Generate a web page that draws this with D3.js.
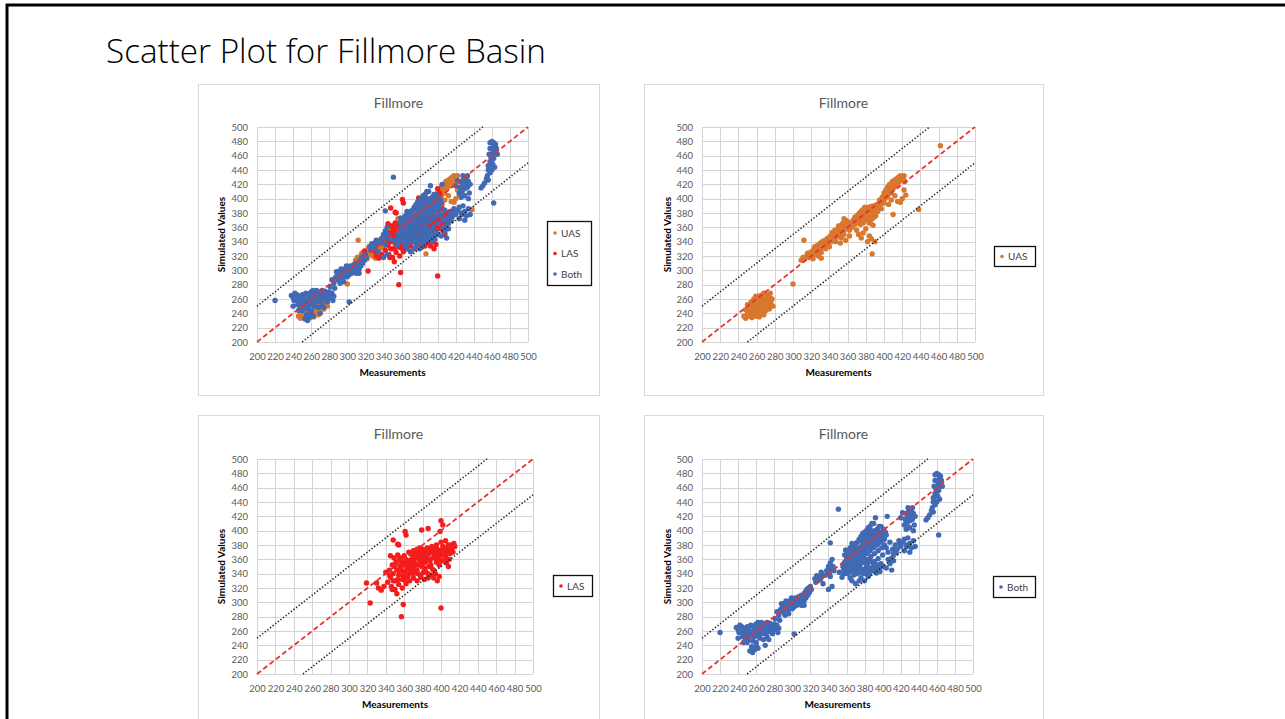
<!DOCTYPE html>
<html>
<head>
<meta charset="utf-8">
<script src="https://cdn.jsdelivr.net/npm/d3@7"></script>
<style>
  body { margin: 0; background: #fff; }
  svg { display: block; }
</style>
</head>
<body>
<svg id="slide"></svg>
<script>
// basic data
var slideTitle = "Scatter Plot for Fillmore Basin";
var chartTitle = "Fillmore";
var xLabel = "Measurements";
var yLabel = "Simulated Values";
var axisTicks = d3.range(200, 501, 20);
var seriesNames = ["UAS", "LAS", "Both"];
var seriesColors = {UAS: "#D8772E", LAS: "#F41C1C", Both: "#4169B4"};

// reference lines (1:1 and +/- 50)
var oneToOne = [[200, 200], [500, 500]];
var upperBand = [[200, 250], [450, 500]];
var lowerBand = [[250, 200], [500, 450]];

var uasPoints = [
  [246,236],[248,233],[250,240],[252,236],[254,242],[255,234],[257,238],[258,245],[260,236],[261,241],
  [262,248],[263,235],[265,240],[266,246],[268,238],[267,252],[270,244],[272,250],[274,246],[276,252],
  [278,250],[248,245],[251,248],[253,252],[256,250],[258,255],[260,252],[262,258],[264,254],[266,260],
  [268,256],[270,262],[272,258],[274,262],[276,258],[265,265],[268,268],[262,264],[257,260],[254,256],
  [250,252],[272,266],[275,268],[259,249],[263,244],[269,249],[271,255],[256,244],[252,244],[277,260],
  [258,242],[261,246],[264,238],[267,243],[253,246],[259,264],[270,252],[273,255],[264,261],[255,252],
  [300,281],[312,342],
  [309,314],[311,318],[313,316],[315,320],[316,324],[318,322],[320,326],[321,321],[323,329],[324,333],
  [326,327],[327,335],[329,331],[330,338],[331,325],[332,340],[322,316],[328,320],[331,317],
  [320,321],[326,332],[334,339],[343,353],[349,352],[355,361],[361,366],[342,340],[347,345],
  [344,344],[346,356],[338,336],[334,332],[330,328],[325,322],[318,318],[352,350],[356,356],[360,362],
  [354,364],[350,362],
  [333,336],[335,342],[336,338],[338,345],[339,340],[341,348],[342,343],[344,350],[345,346],[346,352],
  [348,355],[349,348],[350,358],[351,352],[352,362],[353,345],[354,356],[355,366],[356,350],[357,360],
  [358,370],[359,364],[360,368],[356,372],[361,358],[362,348],[358,342],[352,338],[347,340],[340,333],[336,330],
  [364,362],[366,370],[368,374],[370,366],[372,378],[373,370],[375,382],[376,374],[377,366],[378,386],
  [379,378],[380,370],[381,382],[382,374],[383,388],[384,366],[385,378],[386,384],[387,372],[388,390],
  [389,380],[390,386],[391,376],[392,392],[370,356],[372,350],[375,345],[377,352],[382,340],[384,348],
  [386,344],[387,323],[390,340],[380,358],[393,382],[395,398],[388,363],
  [367,366],[372,373],[376,379],[380,378],[384,382],[379,373],[383,377],[385,372],[390,381],[378,380],
  [381,386],[386,389],[375,375],
  [362,356],[365,360],[368,364],[371,368],[374,364],[378,368],[381,372],[385,366],[389,374],[392,384],
  [394,388],[387,380],[383,384],[379,388],[376,384],[373,380],[370,376],[366,364],
  [396,392],[398,402],[399,396],[400,408],[401,400],[402,412],[403,404],[404,416],[405,408],[406,420],
  [407,412],[408,418],[409,424],[410,414],[411,420],[412,426],[413,418],[414,428],[415,422],[416,430],
  [417,424],[418,432],[419,426],[420,430],[421,428],[422,432],[423,424],[405,392],[408,398],[410,378],
  [412,404],[415,396],[418,395],[420,400],[424,405],[422,412],[400,394],[397,386],
  [403,410],[407,417],[411,424],[416,425],[419,429],[414,418],[408,408],[404,403],
  [438,385],[462,474]
];

var lasPoints = [
  [345,335],[348,340],[350,330],[352,345],[354,338],[356,350],[358,332],[360,342],[362,355],[364,336],
  [366,348],[368,360],[370,340],[372,352],[374,345],[376,362],[378,338],[380,356],[382,348],[384,366],
  [386,340],[388,358],[390,370],[392,345],[394,362],[396,374],[398,352],[400,366],[402,378],[404,360],
  [406,372],[408,380],[410,368],[412,376],[414,382],[360,365],[365,370],[370,372],[375,370],[380,374],
  [385,376],[390,378],[395,380],[400,384],[405,386],
  [342,328],[346,322],[350,318],[354,325],[358,320],[362,326],[366,330],[370,334],[374,330],[378,335],
  [382,332],[386,334],[390,338],[394,340],[398,336],[340,342],[344,345],[347,352],[349,362],[351,356],
  [353,366],[355,360],[357,345],[359,352],[361,336],[363,346],[365,358],[367,342],[369,366],[371,356],
  [373,362],[375,352],[377,358],[379,364],[381,342],[383,356],[385,362],[387,368],[389,352],[391,362],
  [393,366],[395,356],[397,364],[399,372],[401,358],[403,370],[405,364],[407,376],[409,360],[411,372],
  [413,370],[415,378],[392,372],[386,372],[380,368],[374,374],[368,352],[362,360],[356,362],[350,350],
  [344,338],[348,330],
  [355,344],[359,338],[363,350],[367,354],[371,346],[375,340],[379,350],[383,344],[387,350],[391,346],
  [395,368],[399,360],[403,376],[407,368],[369,358],[373,366],[377,368],[381,362],[385,368],[389,374],
  [393,376],[361,330],[365,340],[357,356],[353,332],[383,372],[377,376],[411,380],[397,372],[401,372],
  [319,327],[323,299],[330,327],[332,320],[335,317],[338,322],[348,387],[354,380],[361,399],[362,394],
  [357,280],[359,297],[379,401],[386,403],[399,399],[400,414],[402,408],[400,292],[408,350],[406,355],
  [353,381],[345,365],[347,318],[352,312],[396,330],[392,334]
];

var bothPoints = [
  [220,258],[238,265],[240,262],[242,268],[244,258],[246,264],[248,260],[250,266],[252,262],[254,268],
  [256,258],[258,264],[260,270],[262,260],[264,266],[266,262],[268,270],[270,264],[272,268],[274,262],
  [276,266],[278,260],[280,264],[282,262],[245,252],[248,250],[250,255],[252,248],[254,254],[256,246],
  [258,252],[260,244],[262,254],[264,250],[266,256],[268,248],[270,256],[272,252],[255,238],[253,232],
  [256,230],[258,234],[260,240],[262,236],[250,244],[246,244],[240,250],[244,266],[262,272],[266,272],
  [272,272],[276,270],[280,270],[283,268],[285,264],[278,256],[274,248],[270,240],[284,258],[249,262],
  [257,267],[263,263],[269,259],[275,271],[241,258],
  [264,257],[259,259],[253,259],[247,256],[267,266],[273,259],[279,266],
  [283,287],[285,282],[287,290],[289,294],[290,286],[291,298],[292,290],[293,302],[294,294],[295,298],
  [296,290],[297,302],[298,296],[299,306],[300,298],[301,302],[302,294],[303,306],[304,300],[305,296],
  [306,304],[307,308],[308,300],[309,304],[310,296],[311,306],[312,310],[313,302],[314,314],[315,306],
  [316,318],[317,310],[318,320],[319,314],[320,322],[321,318],[300,291],[296,284],[292,282],[302,256],
  [286,275],[281,277],[288,298],[306,298],[313,296],
  [304,303],[298,300],[310,310],[316,312],[294,290],[290,290],
  [325,333],[327,337],[328,330],[330,336],[331,332],[333,338],[332,342],[326,328],[338,344],[340,350],
  [341,340],[342,355],[343,346],[344,360],[345,350],[346,344],[342,336],[340,318],[344,322],[342,383],
  [351,430],[334,326],[328,334],[332,335],[343,350],[337,338],
  [356,350],[358,356],[360,346],[361,362],[362,352],[363,342],[364,358],[365,366],[366,350],[367,344],
  [368,362],[369,370],[370,356],[371,348],[372,366],[373,374],[374,360],[375,352],[376,370],[377,378],
  [378,364],[379,356],[380,374],[381,382],[382,368],[383,360],[384,378],[385,386],[386,372],[387,364],
  [388,382],[389,390],[390,376],[391,368],[392,386],[393,394],[394,380],[395,372],[396,390],[397,398],
  [398,384],[399,376],[400,394],[401,402],[402,388],[384,392],[386,398],[388,400],[390,396],[380,388],
  [378,384],[376,360],[372,340],[368,338],[364,334],[374,346],[378,346],[382,350],[386,348],[390,352],
  [394,352],[398,354],[380,340],[384,336],[388,344],[392,346],[396,348],[400,350],[376,334],[380,330],
  [384,342],[360,360],[358,366],[362,370],[364,376],[366,382],[370,382],[374,388],[378,396],[382,400],
  [386,406],[390,410],[394,402],[396,406],[392,418],[388,410],[404,394],[405,420],[398,406],[361,340],
  [357,340],[366,330],[370,326],[374,330],[355,335],[352,342],[359,373],
  [357,345],[359,351],[363,357],[365,347],[367,355],[369,361],[371,353],[373,367],[375,359],[377,371],
  [379,363],[381,377],[383,369],[385,381],[387,375],[389,385],[391,379],[393,389],[395,383],[397,393],
  [399,387],[369,345],[373,351],[377,341],[381,345],[385,339],[389,347],[393,341],[397,343],[383,353],
  [387,357],[391,357],[395,361],[379,369],[375,377],[371,375],[367,373],[363,365],[389,393],[392,400],
  [395,396],[385,395],[381,393],[399,398],[403,398],
  [362,346],[366,358],[370,364],[374,356],[378,372],[382,360],[386,378],[390,388],[394,390],[398,394],
  [368,378],[372,384],[376,392],[380,398],[384,404],
  [402,380],[404,376],[406,370],[408,384],[410,362],[412,368],[414,380],[416,374],[418,386],[420,378],
  [422,384],[424,372],[426,380],[428,390],[430,382],[432,376],[434,386],[436,378],[430,370],[408,354],
  [412,358],[404,348],[400,366],[406,360],[410,345],[427,378],[419,381],[415,369],[411,374],[424,388],
  [424,408],[425,416],[426,424],[427,410],[428,420],[429,428],[430,414],[431,422],[432,430],[433,416],
  [434,424],[435,408],[436,420],[426,402],[430,404],[434,400],[428,432],[420,418],[422,425],[433,432],
  [428,414],[432,418],[430,426],[426,412],
  [448,415],[450,418],[452,422],[454,428],[455,432],[456,440],[457,446],[458,452],[459,458],[460,462],
  [461,470],[462,456],[463,474],[464,466],[458,478],[460,480],[462,478],[465,470],[466,462],[459,450],
  [461,448],[463,444],[460,440],[458,436],[456,426],[462,394],[464,476],[457,462],
  [462,466],[460,454],[463,462],[458,470],[456,446]
];

var seriesData = {UAS: uasPoints, LAS: lasPoints, Both: bothPoints};

// layout
var width = 1285;
var height = 719;
var svg = d3.select("#slide").attr("width", width).attr("height", height);

svg.append("rect").attr("width", width).attr("height", height).attr("fill", "#fff");

// slide border (top and left visible)
svg.append("path")
  .attr("d", "M7,722 L7,5 L1290,5")
  .attr("fill", "none")
  .attr("stroke", "#000")
  .attr("stroke-width", 3);

svg.append("text")
  .attr("x", 106)
  .attr("y", 63)
  .attr("textLength", 440)
  .attr("lengthAdjust", "spacingAndGlyphs")
  .style("font-family", "'Open Sans', sans-serif")
  .style("font-weight", 300)
  .style("font-size", "33px")
  .style("fill", "#000")
  .text(slideTitle);

var panels = [
  {fx: 198, fy: 84, fw: 401, fh: 311, px: 257, py: 127, pw: 271, ph: 215, series: ["UAS", "LAS", "Both"],
   lx: 547, ly: 221, lw: 44, lh: 64},
  {fx: 644, fy: 84, fw: 399, fh: 311, px: 702, py: 127, pw: 273, ph: 215, series: ["UAS"],
   lx: 994, ly: 246, lw: 41, lh: 20},
  {fx: 198, fy: 415, fw: 401, fh: 310, px: 257, py: 459, pw: 276, ph: 215, series: ["LAS"],
   lx: 553, ly: 575, lw: 39, lh: 21},
  {fx: 644, fy: 415, fw: 399, fh: 310, px: 702, py: 459, pw: 271, ph: 215, series: ["Both"],
   lx: 993, ly: 576, lw: 42, lh: 21}
];

panels.forEach(function(p) {
  var g = svg.append("g");

  g.append("rect")
    .attr("x", p.fx + 0.5).attr("y", p.fy + 0.5)
    .attr("width", p.fw).attr("height", p.fh)
    .attr("fill", "#fff")
    .attr("stroke", "#d9d9d9");

  g.append("text")
    .attr("x", p.fx + p.fw / 2)
    .attr("y", p.fy + 24)
    .attr("text-anchor", "middle")
    .style("font-family", "Lato, sans-serif")
    .style("font-size", "14px")
    .style("fill", "#595959")
    .text(chartTitle);

  var x = d3.scaleLinear().domain([200, 500]).range([p.px, p.px + p.pw]);
  var y = d3.scaleLinear().domain([200, 500]).range([p.py + p.ph, p.py]);

  // gridlines
  g.append("g").selectAll("line.v").data(axisTicks).enter().append("line")
    .attr("x1", function(d) { return Math.round(x(d)) + 0.5; })
    .attr("x2", function(d) { return Math.round(x(d)) + 0.5; })
    .attr("y1", p.py).attr("y2", p.py + p.ph)
    .attr("stroke", "#d4d4d4");
  g.append("g").selectAll("line.h").data(axisTicks).enter().append("line")
    .attr("y1", function(d) { return Math.round(y(d)) + 0.5; })
    .attr("y2", function(d) { return Math.round(y(d)) + 0.5; })
    .attr("x1", p.px).attr("x2", p.px + p.pw)
    .attr("stroke", "#d4d4d4");

  // axes (labels only)
  var xAxis = g.append("g")
    .attr("transform", "translate(0," + (p.py + p.ph) + ")")
    .call(d3.axisBottom(x).tickValues(axisTicks).tickSize(0).tickPadding(11));
  var yAxis = g.append("g")
    .attr("transform", "translate(" + p.px + ",0)")
    .call(d3.axisLeft(y).tickValues(axisTicks).tickSize(0).tickPadding(9));
  [xAxis, yAxis].forEach(function(a) {
    a.select(".domain").remove();
    a.selectAll("text")
      .style("font-family", "Lato, sans-serif")
      .style("font-size", "9.5px")
      .style("fill", "#595959");
  });

  g.append("text")
    .attr("x", p.px + p.pw / 2)
    .attr("y", p.py + p.ph + 34)
    .attr("text-anchor", "middle")
    .style("font-family", "Lato, sans-serif")
    .style("font-weight", "bold")
    .style("font-size", "10px")
    .style("fill", "#000")
    .text(xLabel);

  g.append("text")
    .attr("transform", "translate(" + (p.fx + 27) + "," + (p.py + p.ph / 2) + ") rotate(-90)")
    .attr("text-anchor", "middle")
    .style("font-family", "Lato, sans-serif")
    .style("font-weight", "bold")
    .style("font-size", "10px")
    .style("fill", "#000")
    .text(yLabel);

  var line = d3.line().x(function(d) { return x(d[0]); }).y(function(d) { return y(d[1]); });

  // points
  p.series.forEach(function(name) {
    g.append("g").selectAll("circle")
      .data(seriesData[name])
      .enter().append("circle")
      .attr("cx", function(d) { return x(d[0]); })
      .attr("cy", function(d) { return y(d[1]); })
      .attr("r", 2.7)
      .attr("fill", seriesColors[name]);
  });

  // reference lines
  g.append("path").datum(oneToOne).attr("d", line)
    .attr("fill", "none").attr("stroke", "#E8322C")
    .attr("stroke-width", 1.8).attr("stroke-dasharray", "5,3");
  [upperBand, lowerBand].forEach(function(b) {
    g.append("path").datum(b).attr("d", line)
      .attr("fill", "none").attr("stroke", "#222")
      .attr("stroke-width", 1.6).attr("stroke-dasharray", "1.3,2");
  });

  // legend
  var lg = g.append("g");
  lg.append("rect")
    .attr("x", p.lx + 0.5).attr("y", p.ly + 0.5)
    .attr("width", p.lw).attr("height", p.lh)
    .attr("fill", "#fff").attr("stroke", "#111").attr("stroke-width", 1.3);
  var rowH = p.series.length > 1 ? 20.5 : 0;
  var firstY = p.series.length > 1 ? p.ly + 12 : p.ly + p.lh / 2 + 0.5;
  p.series.forEach(function(name, i) {
    var cy = firstY + i * rowH;
    lg.append("circle")
      .attr("cx", p.lx + 8).attr("cy", cy).attr("r", 1.8)
      .attr("fill", seriesColors[name]);
    lg.append("text")
      .attr("x", p.lx + 14).attr("y", cy + 3.5)
      .style("font-family", "Lato, sans-serif")
      .style("font-size", "10px")
      .style("fill", "#404040")
      .text(name);
  });
});
</script>
</body>
</html>
